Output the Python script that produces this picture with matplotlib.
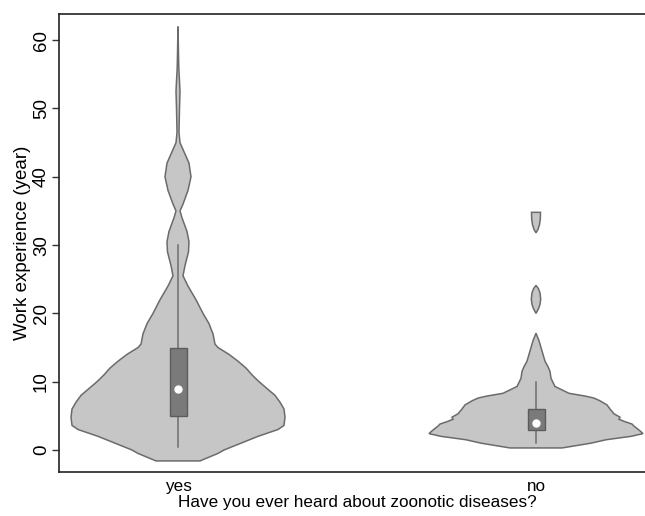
import numpy as np
import matplotlib
matplotlib.use("Agg")
import matplotlib.pyplot as plt

plt.rcParams['font.family'] = ['Liberation Sans', 'DejaVu Sans']

categories = ["yes", "no"]

# Violin outlines: work experience (year) vs half-width (category units)
yes_y = [-1.6, -0.5, 0, 1, 2, 3, 3.6, 4.8, 6, 7, 8, 9, 10, 11, 12, 13, 14, 15, 15.5, 17,
         18.5, 20, 22, 24, 25.5, 27, 29, 30.5, 32, 34, 35, 36, 38, 40, 42, 44, 45, 46.5,
         48, 50, 52.5, 54, 56, 58, 62]
yes_w = [22, 40, 46, 63, 80, 100, 106, 107, 106, 102, 97, 89, 81, 74, 68, 60, 51, 40, 37, 35,
         31, 25, 18, 10, 5, 7, 10.5, 11, 9, 4, 2, 5, 10, 13, 11, 5, 2, 1,
         1.2, 1.5, 2, 1.5, 0.8, 0.5, 0]

no_main_y = [0.3, 1.0, 1.5, 2.0, 2.4, 2.8, 3.5, 3.8, 4.2, 4.5, 4.8, 5.3, 6.0, 6.6, 7.2, 7.6,
             7.9, 8.3, 9.3, 10.5, 11.5, 12.2, 13, 14, 15, 16, 17.1]
no_main_w = [26, 55, 70, 95, 107, 104, 98, 96, 88, 83, 84, 78, 74, 71, 64, 58,
             49, 33, 19, 15, 14, 12, 9, 7, 5, 3, 0]
no_blob1_y = [20, 20.7, 21.3, 22.1, 23, 23.6, 24.1]
no_blob1_w = [0, 2.5, 4.0, 4.7, 4.0, 2.5, 0]
no_blob2_y = [31.8, 32.3, 33.0, 33.8, 34.8]
no_blob2_w = [0, 2.0, 3.5, 4.3, 4.5]

# Box plot summaries
q1 = [5, 3]
median = [9, 4]
q3 = [15, 6]
whisk_lo = [0.5, 1]
whisk_hi = [30, 10]

PX = 358.0  # pixels per category unit
fig = plt.figure(figsize=(6.45, 5.16), dpi=100)
ax = fig.add_axes([59/645, 1 - 472/516, (655-59)/645, (472-14)/516])

fill_c = '#c6c6c6'
edge_c = '#6b6b6b'

def violin(pos, ys, ws):
    ys = np.array(ys, float)
    ws = np.array(ws, float) / PX
    xs = np.concatenate([pos - ws, (pos + ws)[::-1]])
    yy = np.concatenate([ys, ys[::-1]])
    ax.fill(xs, yy, facecolor=fill_c, edgecolor=edge_c, linewidth=1.1, zorder=2)

violin(1, yes_y, yes_w)
violin(2, no_main_y, no_main_w)
violin(2, no_blob1_y, no_blob1_w)
violin(2, no_blob2_y, no_blob2_w)

bw = 8.5 / PX
for i, pos in enumerate([1, 2]):
    ax.plot([pos, pos], [whisk_lo[i], whisk_hi[i]], color='#6e6e6e', lw=1.1, zorder=3)
    ax.add_patch(plt.Rectangle((pos - bw, q1[i]), 2 * bw, q3[i] - q1[i],
                               facecolor='#7a7a7a', edgecolor='#5c5c5c', lw=1.0, zorder=4))
    ax.plot([pos], [median[i]], 'o', ms=5, mfc='white', mec='white', zorder=5)

ax.set_xlim(1 - 119/PX, 2 + 119/PX)
ax.set_ylim((450-472)/68.3*10, (450-14)/68.3*10)
ax.set_yticks([0, 10, 20, 30, 40, 50, 60])
ax.set_xticks([1, 2])
ax.set_xticklabels(categories)
ax.tick_params(axis='x', length=0, pad=5, labelsize=12.3)
ax.tick_params(axis='y', length=5, width=1, pad=1.5, labelsize=13.5, labelrotation=90,
               color='#333333')
for lab in ax.get_yticklabels():
    lab.set_va('center')
for s in ax.spines.values():
    s.set_linewidth(1.2)
    s.set_color('#222222')
ax.set_ylabel('Work experience (year)', fontsize=13.5, labelpad=1.5)
ax.set_xlabel('Have you ever heard about zoonotic diseases?', fontsize=12.3, labelpad=1)

fig.savefig('out.png', dpi=100)
